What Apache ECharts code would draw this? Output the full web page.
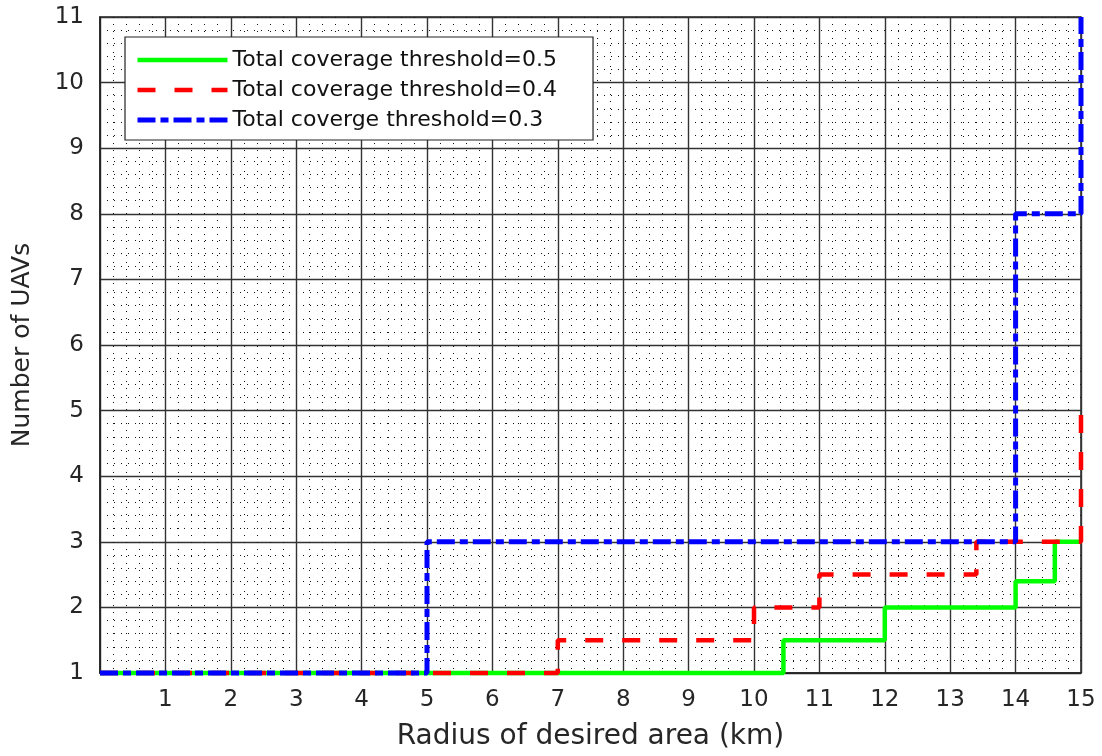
<!DOCTYPE html>
<html>
<head>
<meta charset="utf-8">
<script src="https://cdn.jsdelivr.net/npm/echarts@6/dist/echarts.min.js"></script>
<style>html,body{margin:0;padding:0;background:#fff}#c{width:1102px;height:756px}</style>
</head>
<body>
<div id="c"></div>
<script>
// Step breakpoints (x where each new level starts, and level)
const greenX = [0, 10.45, 12, 14, 14.6, 15];
const greenY = [1, 1.5, 2, 2.4, 3, 3];
const redX = [0, 7, 10, 11, 13.4, 15];
const redY = [1, 1.5, 2, 2.5, 3, 5];
const blueX = [0, 5, 14, 15];
const blueY = [1, 3, 8, 11];
const seriesNames = ['Total coverage threshold=0.5', 'Total coverage threshold=0.4', 'Total coverge threshold=0.3'];
const xTicks = [1,2,3,4,5,6,7,8,9,10,11,12,13,14,15];
const yTicks = [1,2,3,4,5,6,7,8,9,10,11];

const pairs = (xs, ys) => xs.map((x, i) => [x, ys[i]]);
const font = '"DejaVu Sans", "Liberation Sans", Arial, sans-serif';
const txt = '#262626';

const chart = echarts.init(document.getElementById('c'), null, {renderer: 'canvas'});
chart.setOption({
  animation: false,
  backgroundColor: '#fff',
  grid: {left: 100, right: 21, top: 17, bottom: 81, show: true, borderColor: '#222', borderWidth: 1.5, backgroundColor: '#fff'},
  legend: {
    orient: 'vertical', left: 125, top: 37,
    padding: [12, 36, 9, 10],
    backgroundColor: '#fff', borderColor: '#222', borderWidth: 1.2,
    itemWidth: 90, itemHeight: 20, itemGap: 8,
    itemStyle: {opacity: 0},
    textStyle: {fontFamily: font, fontSize: 22, lineHeight: 20, color: '#111'},
    data: [
      {name: seriesNames[0], lineStyle: {width: 4.5}},
      {name: seriesNames[1], lineStyle: {width: 4.5}},
      {name: seriesNames[2], lineStyle: {width: 5}}
    ]
  },
  xAxis: {
    type: 'value', min: 0, max: 15, interval: 1,
    name: 'Radius of desired area (km)', nameLocation: 'middle', nameGap: 50,
    nameTextStyle: {fontFamily: font, fontSize: 28, color: txt},
    axisLine: {show: true, onZero: false, lineStyle: {color: '#222', width: 1.5}},
    axisTick: {show: false},
    axisLabel: {fontFamily: font, fontSize: 23, color: txt, margin: 16,
      formatter: v => xTicks.includes(v) ? String(v) : ''},
    splitLine: {show: true, lineStyle: {color: '#333', width: 1.4}},
    minorTick: {show: false, splitNumber: 5},
    minorSplitLine: {show: true, lineStyle: {color: '#111', width: 1, type: [1, 6]}}
  },
  yAxis: {
    type: 'value', min: 1, max: 11, interval: 1,
    name: 'Number of UAVs', nameLocation: 'middle', nameGap: 65,
    nameTextStyle: {fontFamily: font, fontSize: 25, color: txt},
    axisLine: {show: true, lineStyle: {color: '#222', width: 1.5}},
    axisTick: {show: false},
    axisLabel: {fontFamily: font, fontSize: 23, color: txt, margin: 16,
      formatter: v => yTicks.includes(v) ? String(v) : ''},
    splitLine: {show: true, lineStyle: {color: '#333', width: 1.4}},
    minorTick: {show: false, splitNumber: 5},
    minorSplitLine: {show: true, lineStyle: {color: '#111', width: 1, type: [1, 6]}}
  },
  series: [
    {name: seriesNames[0], type: 'line', step: 'end', symbol: 'none', clip: false,
     data: pairs(greenX, greenY), z: 3,
     itemStyle: {color: '#00ff00'},
     lineStyle: {color: '#00ff00', width: 4.5, type: 'solid'}},
    {name: seriesNames[1], type: 'line', step: 'end', symbol: 'none', clip: false,
     data: pairs(redX, redY), z: 4,
     itemStyle: {color: '#ff0000'},
     lineStyle: {color: '#ff0000', width: 4.5, type: [18, 19]}},
    {name: seriesNames[2], type: 'line', step: 'end', symbol: 'none', clip: false,
     data: pairs(blueX, blueY), z: 5,
     itemStyle: {color: '#0000ff'},
     lineStyle: {color: '#0000ff', width: 5, type: [18, 5, 8, 5]}}
  ]
});
</script>
</body>
</html>
